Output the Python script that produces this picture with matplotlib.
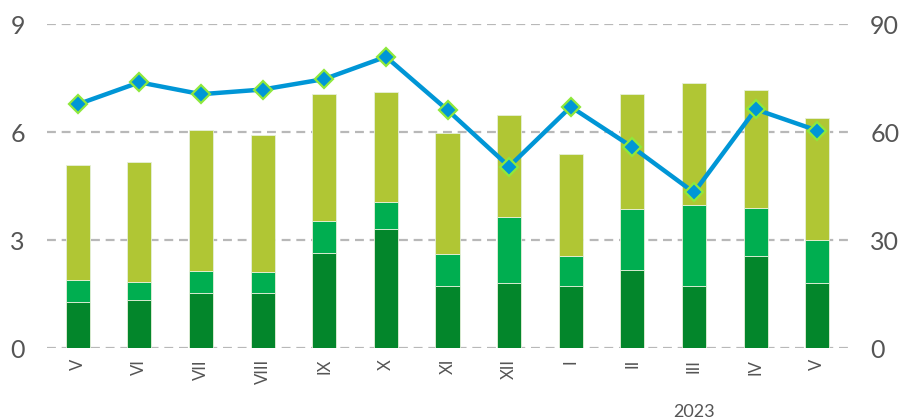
import matplotlib.pyplot as plt
import numpy as np

plt.rcParams['font.family'] = ['Lato', 'DejaVu Sans']

# miesiące (V 2022 - V 2023)
months = ["V", "VI", "VII", "VIII", "IX", "X", "XI", "XII", "I", "II", "III", "IV", "V"]
# składniki słupków (lewa oś)
part1 = [1.28, 1.34, 1.52, 1.53, 2.65, 3.30, 1.73, 1.81, 1.71, 2.17, 1.73, 2.56, 1.81]
part2 = [0.61, 0.48, 0.63, 0.59, 0.89, 0.76, 0.89, 1.82, 0.85, 1.70, 2.25, 1.33, 1.20]
part3 = [3.19, 3.36, 3.91, 3.79, 3.52, 3.06, 3.36, 2.84, 2.84, 3.19, 3.38, 3.28, 3.37]
# linia (prawa oś)
line_vals = [67.7, 73.8, 70.5, 71.8, 74.7, 80.9, 66.1, 50.4, 67.0, 55.8, 43.2, 66.3, 60.4]

c1 = "#03862b"
c2 = "#00ae50"
c3 = "#b0c634"
grid_c = "#b8b8b8"
text_c = "#555555"

fig = plt.figure(figsize=(9.04, 4.2), dpi=100)
ax = fig.add_axes([47 / 904, 72 / 420, 801 / 904, 324 / 420])
ax2 = ax.twinx()

x = np.arange(len(months))
w = 0.39
b2 = np.array(part1)
b3 = b2 + np.array(part2)
ax.bar(x, part1, w, color=c1, edgecolor="#e6f0da", linewidth=0.6, zorder=3)
ax.bar(x, part2, w, bottom=b2, color=c2, edgecolor="#e6f0da", linewidth=0.6, zorder=3)
ax.bar(x, part3, w, bottom=b3, color=c3, edgecolor="#e6f0da", linewidth=0.6, zorder=3)

ax2.plot(x, line_vals, color="#0096d6", linewidth=3.2, marker="D", markersize=9.5,
         markerfacecolor="#0096d6", markeredgecolor="#8ee83c", markeredgewidth=1.6,
         zorder=4)

ax.set_xlim(-0.5, len(months) - 0.5)
ax.set_ylim(0, 9)
ax2.set_ylim(0, 90)
ax.set_yticks([0, 3, 6, 9])
ax2.set_yticks([0, 30, 60, 90])

ax.yaxis.grid(True, color=grid_c, linestyle=(0, (4, 2.6)), linewidth=1.6, zorder=0)
ax.set_axisbelow(True)

for a in (ax, ax2):
    for s in a.spines.values():
        s.set_visible(False)
    a.tick_params(length=0, colors=text_c, labelsize=18)
ax.tick_params(axis="y", pad=16)
ax2.tick_params(axis="y", pad=16)

ax.set_xticks(x)
ax.set_xticklabels(months, rotation=90, fontsize=12, color=text_c, va="top")
ax.tick_params(axis="x", pad=8)

# podpis roku pod marcem
ax.annotate("2023", xy=(10, 0), xycoords=("data", "axes fraction"),
            xytext=(0, -46), textcoords="offset points", ha="center", va="center",
            fontsize=13, color=text_c)

fig.savefig("out.png", dpi=100)
